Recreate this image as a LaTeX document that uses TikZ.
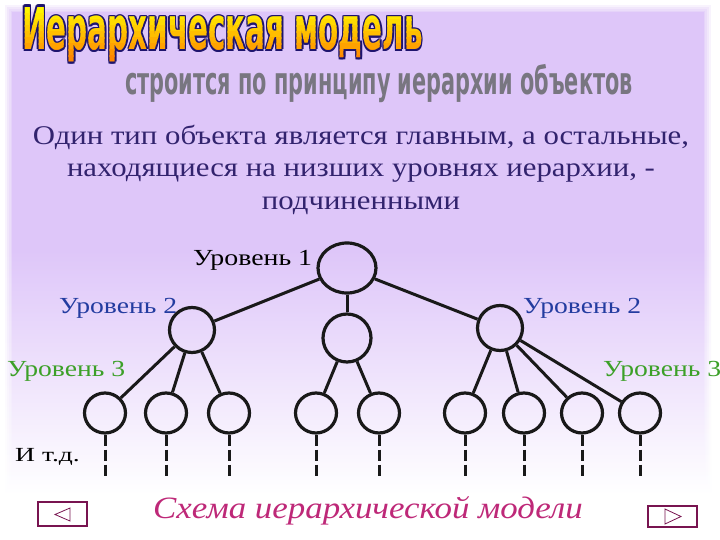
\documentclass[tikz,border=0pt]{standalone}
\usepackage{fontspec}
\usepackage{graphicx}
\setmainfont{Liberation Serif}
\newfontfamily\dvsans{DejaVu Sans}
\usetikzlibrary{shapes.geometric}
\definecolor{lav}{RGB}{222,198,249}
\definecolor{paratext}{RGB}{50,35,110}
\definecolor{lvlblue}{RGB}{35,60,160}
\definecolor{lvlgreen}{RGB}{60,160,40}
\definecolor{navy}{RGB}{30,20,110}
\definecolor{ttlyel}{RGB}{255,245,0}
\definecolor{ttlora}{RGB}{255,135,0}
\definecolor{subgray}{RGB}{120,118,128}
\definecolor{capmag}{RGB}{190,40,120}
\definecolor{btncol}{RGB}{120,20,80}
\newcommand\wser[2]{\scalebox{#1}[1]{#2}}
\newcommand\ttltext{\scalebox{0.49}[1]{\fontsize{60}{60}\dvsans\bfseries Иерархическая модель}}
\newcommand\subtext{\scalebox{0.548}[1]{\fontsize{38}{38}\dvsans\bfseries строится по принципу иерархии объектов}}
\tikzset{
  lvone/.style={ellipse,draw=black!90,line width=3.2pt,minimum width=58pt,minimum height=50pt,inner sep=0pt},
  lvtwo/.style={ellipse,draw=black!90,line width=3.2pt,minimum width=45pt,minimum height=45pt,inner sep=0pt},
  lvthree/.style={ellipse,draw=black!90,line width=3.2pt,minimum width=41pt,minimum height=40pt,inner sep=0pt},
  conn/.style={draw=black!90,line width=3pt},
  dashline/.style={draw=black!90,line width=3pt,dash pattern=on 11pt off 4pt},
  lbl/.style={anchor=base west,inner sep=0pt,font=\fontsize{23}{23}\selectfont},
  para/.style={anchor=base,inner sep=0pt,text=paratext,font=\fontsize{27}{27}\selectfont},
  btn/.style={rectangle,draw=btncol,line width=1.2pt,fill=white,inner sep=0pt}
}
\begin{document}
\begin{tikzpicture}[x=1pt,y=-1pt]
\useasboundingbox (0,0) rectangle (720,540);
\fill[white] (0,0) rectangle (720,540);
% panel with soft edges
\foreach \e/\o in {7/0.2,5/0.25,3/0.3,1/0.4} {
  \fill[lav,opacity=\o] (12-\e,12-\e) rectangle (704+\e,250);
  \shade[opacity=\o,top color=lav,bottom color=white] (12-\e,250) rectangle (704+\e,495);
}
\fill[lav] (12,12) rectangle (704,250);
\shade[top color=lav,bottom color=white] (12,250) rectangle (704,495);
% title
\foreach \dx/\dy in {-1.6/0,1.6/0,0/-1.6,0/1.6,-1.1/-1.1,1.1/1.1,-1.1/1.1,1.1/-1.1} {
  \node[anchor=base west,inner sep=0pt,text=navy] at (22+\dx,50+\dy) {\ttltext};
}
\foreach \i in {0,...,8} {
  \pgfmathtruncatemacro\pct{100-\i*100/8}
  \begin{scope}
    \clip (0,8+\i*6) rectangle (460,14.5+\i*6);
    \node[anchor=base west,inner sep=0pt,text=ttlyel!\pct!ttlora] at (22,50) {\ttltext};
  \end{scope}
}
% subtitle
\node[anchor=base west,inner sep=0pt,text=subgray] (sub) at (125,95) {\subtext};
% paragraph
\node[para] (p1) at (361,145) {\wser{1.14}{Один тип объекта является главным, а остальные,}};
\node[para] (p2) at (361,177) {\wser{1.14}{находящиеся на низших уровнях иерархии, -}};
\node[para] (p3) at (361,210) {\wser{1.14}{подчиненными}};
% labels
\node[lbl,text=black] (l1) at (193,265) {\wser{1.21}{Уровень 1}};
\node[lbl,text=lvlblue] (l2a) at (59,313) {\wser{1.2}{Уровень 2}};
\node[lbl,text=lvlblue] (l2b) at (523,313) {\wser{1.2}{Уровень 2}};
\node[lbl,text=lvlgreen] (l3a) at (7,376) {\wser{1.2}{Уровень 3}};
\node[lbl,text=lvlgreen] (l3b) at (603,376) {\wser{1.2}{Уровень 3}};
\node[anchor=base west,inner sep=0pt,font=\fontsize{20}{20}\selectfont] (etc) at (15,461) {\wser{1.38}{И т.д.}};
% tree nodes
\node[lvone] (r) at (347,268) {};
\node[lvtwo] (a) at (192,330) {};
\node[lvtwo,minimum width=48pt,minimum height=48pt] (b) at (347,338) {};
\node[lvtwo] (c) at (500,328) {};
\foreach \n/\x in {1/105,2/166,3/229,4/316,5/379,6/465,7/524,8/582,9/640} {
  \node[lvthree] (d\n) at (\x,413) {};
  \coordinate (e\n) at (\x,476);
  \draw[dashline] (d\n.south) -- (e\n);
}
\draw[conn] (r) -- (a);
\draw[conn] (r) -- (b);
\draw[conn] (r) -- (c);
\foreach \n in {1,2,3} { \draw[conn] (a) -- (d\n); }
\foreach \n in {4,5} { \draw[conn] (b) -- (d\n); }
\foreach \n in {6,7,8,9} { \draw[conn] (c) -- (d\n); }
% caption
\node[anchor=base west,inner sep=0pt,text=capmag,font=\fontsize{31}{31}\selectfont\itshape] (cap) at (153,518) {\wser{1.125}{Схема иерархической модели}};
% buttons
\node[btn,minimum width=49pt,minimum height=24pt] (bl) at (62.5,514) {};
\node[btn,minimum width=49pt,minimum height=21pt] (br) at (672.5,516.5) {};
\draw[btncol,line width=0.8pt] (55,514.5) -- (70,508) -- (70,521) -- cycle;
\draw[btncol,line width=0.8pt] (665,509) -- (681,516.5) -- (665,524) -- cycle;
\end{tikzpicture}
\end{document}
